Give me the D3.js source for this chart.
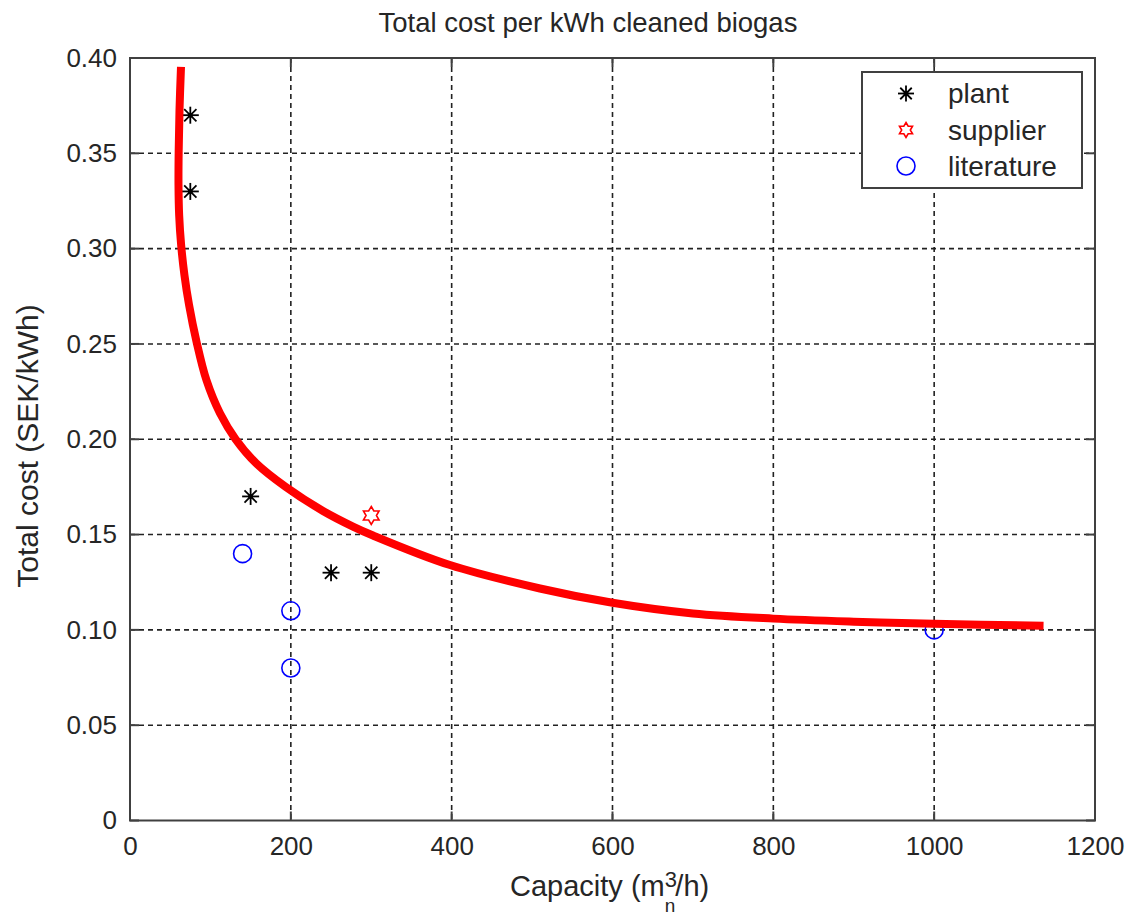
<!DOCTYPE html>
<html>
<head>
<meta charset="utf-8">
<script src="https://cdn.jsdelivr.net/npm/d3@7/dist/d3.min.js"></script>
<style>
  html, body { margin: 0; padding: 0; background: #fff; }
  svg { display: block; }
  text { font-family: "Liberation Sans", Arial, sans-serif; fill: #262626; }
</style>
</head>
<body>
<svg id="chart" width="1131" height="916"></svg>
<script>
// ---- data ----
const plantX = [75, 75, 150, 250, 300];
const plantY = [0.37, 0.33, 0.17, 0.13, 0.13];
const supplierX = [300];
const supplierY = [0.16];
const literatureX = [140, 200, 200, 1000];
const literatureY = [0.14, 0.11, 0.08, 0.10];
// fitted curve
const curveX = [63.42, 61.55, 60.56, 60.31, 61.13, 63.59, 67.68, 73.43, 82.76, 95.13, 111.9, 131.2, 156.7, 193.4, 240.0, 277.3, 302.2, 397.9, 509.8, 600, 700, 800, 900, 1000, 1136];
const curveY = [0.3953, 0.3727, 0.3517, 0.3334, 0.3176, 0.3019, 0.2862, 0.2705, 0.2511, 0.2309, 0.2136, 0.2001, 0.1875, 0.1751, 0.1624, 0.1542, 0.1495, 0.1340, 0.1217, 0.1142, 0.1086, 0.1059, 0.1043, 0.1032, 0.1022];
const xTicks = [0, 200, 400, 600, 800, 1000, 1200];
const yTicks = [0, 0.05, 0.10, 0.15, 0.20, 0.25, 0.30, 0.35, 0.40];
const legendLabels = ["plant", "supplier", "literature"];
const titleText = "Total cost per kWh cleaned biogas";
const yLabelText = "Total cost (SEK/kWh)";

// ---- layout ----
const L = 130, R = 1095, T = 58, B = 820.5;
const svg = d3.select("#chart");
const x = d3.scaleLinear().domain([0, 1200]).range([L, R]);
const y = d3.scaleLinear().domain([0, 0.40]).range([B, T]);
const axisColor = "#404040";
const fsTick = 26;
const FF = '"Liberation Sans", Arial, sans-serif';

// grid
const grid = svg.append("g");
grid.selectAll("line.vg").data(xTicks.filter(d => d > 0 && d < 1200)).join("line")
  .attr("x1", d => x(d)).attr("x2", d => x(d)).attr("y1", T).attr("y2", B)
  .attr("stroke", "#222").attr("stroke-width", 1.6).attr("stroke-dasharray", "5,4");
grid.selectAll("line.hg").data(yTicks.filter(d => d > 0 && d < 0.40)).join("line")
  .attr("x1", L).attr("x2", R).attr("y1", d => y(d)).attr("y2", d => y(d))
  .attr("stroke", "#222").attr("stroke-width", 1.6).attr("stroke-dasharray", "5,4");

// axes (MATLAB-like inward ticks, box)
const tickLen = 9;
const xAxisB = d3.axisBottom(x).tickValues(xTicks).tickSize(0).tickPadding(16).tickFormat(d3.format("d"));
const gx = svg.append("g").attr("transform", `translate(0,${B})`).call(xAxisB);
gx.select(".domain").remove();
gx.selectAll("text").attr("font-size", fsTick).attr("fill", "#262626").attr("dy", "0.71em")
  .style("font-family", FF);

const fmtY = d => d === 0 ? "0" : d3.format(".2f")(d);
const yAxisL = d3.axisLeft(y).tickValues(yTicks).tickSize(0).tickPadding(13).tickFormat(fmtY);
const gy = svg.append("g").attr("transform", `translate(${L},0)`).call(yAxisL);
gy.select(".domain").remove();
gy.selectAll("text").attr("font-size", fsTick).attr("fill", "#262626")
  .style("font-family", FF);

const ticks = svg.append("g").attr("stroke", axisColor).attr("stroke-width", 2);
xTicks.forEach(d => {
  ticks.append("line").attr("x1", x(d)).attr("x2", x(d)).attr("y1", B).attr("y2", B - tickLen);
  ticks.append("line").attr("x1", x(d)).attr("x2", x(d)).attr("y1", T).attr("y2", T + tickLen);
});
yTicks.forEach(d => {
  ticks.append("line").attr("x1", L).attr("x2", L + tickLen).attr("y1", y(d)).attr("y2", y(d));
  ticks.append("line").attr("x1", R).attr("x2", R - tickLen).attr("y1", y(d)).attr("y2", y(d));
});

// markers
function asterisk(g, cx, cy, s) {
  const h = s / 2, dd = h * 0.72;
  const p = g.append("g").attr("stroke", "#000").attr("stroke-width", 1.8);
  p.append("line").attr("x1", cx - h).attr("x2", cx + h).attr("y1", cy).attr("y2", cy);
  p.append("line").attr("x1", cx).attr("x2", cx).attr("y1", cy - h).attr("y2", cy + h);
  p.append("line").attr("x1", cx - dd).attr("x2", cx + dd).attr("y1", cy - dd).attr("y2", cy + dd);
  p.append("line").attr("x1", cx - dd).attr("x2", cx + dd).attr("y1", cy + dd).attr("y2", cy - dd);
  p.append("circle").attr("cx", cx).attr("cy", cy).attr("r", 2.5).attr("fill", "#000").attr("stroke", "none");
}
function hexagram(g, cx, cy, r) {
  const pts = [];
  for (let i = 0; i < 12; i++) {
    const a = -Math.PI / 2 + i * Math.PI / 6;
    const rr = i % 2 === 0 ? r : r * 0.577;
    pts.push([cx + rr * Math.cos(a), cy + rr * Math.sin(a)]);
  }
  g.append("polygon").attr("points", pts.map(p => p.join(",")).join(" "))
    .attr("fill", "none").attr("stroke", "#ff0000").attr("stroke-width", 1.6);
}
function circ(g, cx, cy, r) {
  g.append("circle").attr("cx", cx).attr("cy", cy).attr("r", r)
    .attr("fill", "none").attr("stroke", "#0000ff").attr("stroke-width", 1.6);
}

const marks = svg.append("g");
plantX.forEach((d, i) => asterisk(marks, x(d), y(plantY[i]), 17));
supplierX.forEach((d, i) => hexagram(marks, x(d), y(supplierY[i]), 9));
literatureX.forEach((d, i) => circ(marks, x(d), y(literatureY[i]), 9));

// red fitted curve
const curveData = curveX.map((d, i) => [d, curveY[i]]);
const line = d3.line().x(d => x(d[0])).y(d => y(d[1])).curve(d3.curveCatmullRom.alpha(0.5));
svg.append("path").datum(curveData).attr("d", line)
  .attr("fill", "none").attr("stroke", "#ff0000").attr("stroke-width", 8).attr("stroke-linecap", "butt").attr("stroke-linejoin", "round");

// box
svg.append("rect").attr("x", L).attr("y", T).attr("width", R - L).attr("height", B - T)
  .attr("fill", "none").attr("stroke", axisColor).attr("stroke-width", 2);

// legend
const lg = svg.append("g");
lg.append("rect").attr("x", 862).attr("y", 72).attr("width", 220).attr("height", 116)
  .attr("fill", "#fff").attr("stroke", axisColor).attr("stroke-width", 2);
const rowsY = [93.5, 130, 166];
asterisk(lg, 906, rowsY[0], 16);
hexagram(lg, 906, rowsY[1], 7.5);
circ(lg, 906, rowsY[2], 9);
legendLabels.forEach((t, i) => {
  lg.append("text").attr("x", 948).attr("y", rowsY[i]).attr("dy", "0.35em").attr("font-size", 28).text(t);
});

// title
svg.append("text").attr("x", 588).attr("y", 31.5).attr("text-anchor", "middle").attr("font-size", 27.5).text(titleText);

// x label with sub/superscript
const xl = svg.append("text").attr("x", 510).attr("y", 896).attr("text-anchor", "start").attr("font-size", 29);
xl.append("tspan").text("Capacity (m");
xl.append("tspan").attr("font-size", 22).attr("dy", -9).text("3");
xl.append("tspan").attr("font-size", 19).attr("dx", -12.2).attr("dy", 25).text("n");
xl.append("tspan").attr("dy", -16).text("/h)");

// y label
svg.append("text").attr("transform", `translate(38,446) rotate(-90)`)
  .attr("text-anchor", "middle").attr("font-size", 30).text(yLabelText);
</script>
</body>
</html>
